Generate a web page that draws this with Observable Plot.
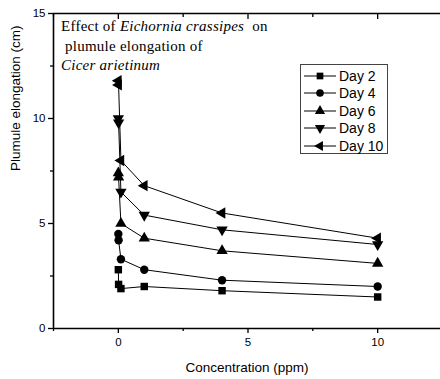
<!DOCTYPE html>
<html><head><meta charset="utf-8">
<script src="https://cdn.jsdelivr.net/npm/d3@7"></script>
<script src="https://cdn.jsdelivr.net/npm/@observablehq/plot@0.6"></script>
<style>
body{margin:0;background:#fff;}
#wrap{position:relative;width:440px;height:379px;overflow:hidden;background:#fff;}
#note{position:absolute;left:61px;top:17px;font-size:15px;letter-spacing:0.25px;font-family:"Liberation Serif","Times New Roman",serif;line-height:19.5px;color:#000;}
#note .ln{height:19.5px;white-space:nowrap;}
#note span{display:inline-block;white-space:pre;}
#note .it{font-style:italic;}
#legend{position:absolute;left:300px;top:64px;width:88px;height:90px;border:1px solid #444;background:#fff;font-family:"Liberation Sans",Arial,sans-serif;font-size:14px;color:#000;box-sizing:border-box;padding-top:2px;}
.row{height:17.5px;display:flex;align-items:center;}
.row svg{margin-left:3px;margin-right:3px;}
</style></head>
<body><div id="wrap"></div>
<script>
const conc = [0, 0.01, 0.1, 1, 4, 10];
const seriesNames = ["Day 2", "Day 4", "Day 6", "Day 8", "Day 10"];
const day2 = [2.8, 2.1, 1.9, 2.0, 1.8, 1.5];
const day4 = [4.5, 4.2, 3.3, 2.8, 2.3, 2.0];
const day6 = [7.4, 7.2, 5.0, 4.3, 3.7, 3.1];
const day8 = [10.0, 9.8, 6.5, 5.4, 4.7, 4.0];
const day10 = [11.8, 11.6, 8.0, 6.8, 5.5, 4.3];
const xTicks = [0, 5, 10];
const xMinorTicks = [-2.5, 2.5, 7.5, 12.5];
const yTicks = [0, 5, 10, 15];
const yMinorTicks = [2.5, 7.5, 12.5];
const xDomain = [-2.5, 12.5];
const yDomain = [0, 15];
const noteLines = [
  [["Effect of ", false], ["Eichornia crassipes", true], ["  on", false]],
  [[" plumule elongation of", false]],
  [["Cicer arietinum", true]]
];

const seriesValues = [day2, day4, day6, day8, day10];
const data = seriesNames.flatMap((s, i) => conc.map((c, j) => ({series: s, conc: c, value: seriesValues[i][j]})));

const sqrt3 = Math.sqrt(3);
const triDown = {draw(ctx, size) {
  const y = -Math.sqrt(size / (sqrt3 * 3));
  ctx.moveTo(0, -y * 2); ctx.lineTo(-sqrt3 * y, y); ctx.lineTo(sqrt3 * y, y); ctx.closePath();
}};
const triLeft = {draw(ctx, size) {
  const y = -Math.sqrt(size / (sqrt3 * 3));
  ctx.moveTo(y * 2, 0); ctx.lineTo(-y, -sqrt3 * y); ctx.lineTo(-y, sqrt3 * y); ctx.closePath();
}};
const symbols = [d3.symbolSquare, d3.symbolCircle, d3.symbolTriangle, triDown, triLeft];

const chart = Plot.plot({
  width: 440, height: 379,
  marginLeft: 53, marginTop: 13, marginBottom: 51, marginRight: 0,
  x: {domain: xDomain, range: [53, 442]},
  y: {domain: yDomain},
  symbol: {domain: seriesNames, range: symbols},
  style: {fontFamily: "Liberation Sans, Arial, sans-serif", fontSize: "11.5px", color: "#000", background: "#fff"},
  marks: [
    Plot.line(data, {x: "conc", y: "value", z: "series", stroke: "#000", strokeWidth: 1}),
    Plot.dot(data, {x: "conc", y: "value", symbol: "series", fill: "#000", stroke: "none", r: 4.2}),
    Plot.ruleX([xDomain[0]], {stroke: "#000", strokeWidth: 1.6}),
    Plot.ruleY(yDomain, {stroke: "#000", strokeWidth: 1.6}),
    Plot.axisX({ticks: xTicks, tickSize: 5, tickPadding: 4, label: null, strokeWidth: 1.3}),
    Plot.axisX({ticks: xMinorTicks, tickSize: 3, text: null, label: null, strokeWidth: 1.3}),
    Plot.axisX({anchor: "top", ticks: xTicks, tickSize: -5, text: null, label: null, strokeWidth: 1.3}),
    Plot.axisX({anchor: "top", ticks: xMinorTicks, tickSize: -3, text: null, label: null, strokeWidth: 1.3}),
    Plot.axisY({ticks: yTicks, tickSize: 5, tickPadding: 3, label: null, strokeWidth: 1.3}),
    Plot.axisY({ticks: yMinorTicks, tickSize: 3, text: null, label: null, strokeWidth: 1.3}),
    Plot.text(["Concentration (ppm)"], {frameAnchor: "bottom", dy: 39, fontSize: 13.5, lineAnchor: "middle"}),
    Plot.text(["Plumule elongation (cm)"], {frameAnchor: "left", dx: -38, rotate: -90, fontSize: 13.5, lineAnchor: "middle"})
  ]
});
const wrap = document.getElementById("wrap");
wrap.appendChild(chart);

const note = document.createElement("div");
note.id = "note";
noteLines.forEach(parts => {
  const ln = document.createElement("div");
  ln.className = "ln";
  parts.forEach(([txt, italic]) => {
    const sp = document.createElement("span");
    if (italic) sp.className = "it";
    sp.textContent = txt;
    ln.appendChild(sp);
  });
  note.appendChild(ln);
});
wrap.appendChild(note);

const legend = document.createElement("div");
legend.id = "legend";
seriesNames.forEach((name, i) => {
  const row = document.createElement("div");
  row.className = "row";
  const svg = d3.create("svg").attr("width", 32).attr("height", 14);
  svg.append("line").attr("x1", 0).attr("x2", 32).attr("y1", 7).attr("y2", 7).attr("stroke", "#000").attr("stroke-width", 1);
  svg.append("path").attr("transform", "translate(16,7)").attr("d", d3.symbol(symbols[i], 45)()).attr("fill", "#000");
  row.appendChild(svg.node());
  const t = document.createElement("span");
  t.textContent = name;
  row.appendChild(t);
  legend.appendChild(row);
});
wrap.appendChild(legend);
</script>
</body></html>
